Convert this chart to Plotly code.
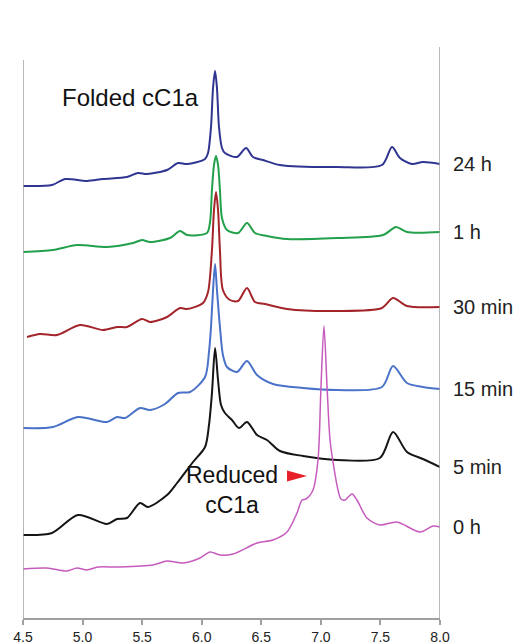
import plotly.graph_objects as go

# Retention time (min) and offset detector signal (a.u.) for each sample
labels = ["24 h", "1 h", "30 min", "15 min", "5 min", "0 h"]
colors = ["#2f3590", "#22a04b", "#a3242a", "#4a72c8", "#151515", "#c65bbd"]

t_24h = [4.50, 4.743, 4.853, 5.037, 5.171, 5.373, 5.465, 5.541, 5.709, 5.801, 5.877, 6.028, 6.053, 6.078,
         6.095, 6.112, 6.128, 6.145, 6.170, 6.195, 6.296, 6.372, 6.430, 6.514, 6.657, 7.136, 7.513, 7.597,
         7.664, 7.765, 7.857, 8.0]
s_24h = [432, 433, 439, 437, 439, 441, 445, 444, 448, 455, 454, 459, 465, 491,
         530, 547, 530, 491, 470, 465, 461, 470, 461, 458, 453, 451, 453, 471,
         460, 454, 456, 454]

t_1h = [4.50, 4.752, 4.953, 5.205, 5.423, 5.499, 5.566, 5.734, 5.818, 5.877, 6.044, 6.070, 6.086, 6.103,
        6.120, 6.137, 6.153, 6.170, 6.212, 6.305, 6.380, 6.447, 6.548, 6.716, 7.136, 7.522, 7.631, 7.723, 8.0]
s_1h = [366, 368, 373, 371, 375, 378, 376, 380, 387, 383, 385, 396, 428, 453,
        462, 453, 428, 400, 388, 385, 395, 385, 382, 379, 380, 383, 391, 386, 386]

t_30m = [4.534, 4.643, 4.785, 4.978, 5.171, 5.289, 5.373, 5.499, 5.566, 5.709, 5.818, 5.877, 6.011, 6.053,
         6.086, 6.103, 6.120, 6.137, 6.153, 6.178, 6.237, 6.305, 6.380, 6.447, 6.531, 6.716, 7.136, 7.513,
         7.606, 7.723, 8.0]
s_30m = [281, 284, 283, 293, 288, 291, 291, 299, 296, 301, 310, 309, 315, 326,
         368, 408, 426, 408, 368, 328, 318, 317, 330, 316, 314, 309, 307, 310,
         320, 312, 311]

t_15m = [4.475, 4.752, 4.962, 5.205, 5.289, 5.356, 5.482, 5.566, 5.692, 5.801, 5.902, 6.028, 6.061, 6.078,
         6.095, 6.112, 6.128, 6.153, 6.178, 6.212, 6.296, 6.380, 6.464, 6.598, 6.850, 7.136, 7.513, 7.606,
         7.723, 7.857, 8.0]
s_15m = [190, 191, 201, 196, 201, 200, 210, 208, 214, 225, 226, 241, 266, 291,
         328, 354, 328, 291, 263, 251, 246, 257, 243, 234, 230, 228, 231, 252,
         235, 231, 229]

t_5m = [4.50, 4.743, 4.962, 5.205, 5.289, 5.373, 5.482, 5.549, 5.709, 5.793, 5.927, 6.028, 6.061, 6.086,
        6.112, 6.137, 6.162, 6.195, 6.254, 6.313, 6.380, 6.464, 6.548, 6.657, 6.850, 7.136, 7.496, 7.606,
        7.723, 7.857, 8.0]
s_5m = [83, 85, 103, 94, 99, 100, 115, 111, 123, 135, 156, 171, 193, 225,
        270, 238, 213, 205, 198, 190, 196, 183, 178, 167, 162, 158, 160, 186,
        166, 159, 151]

t_0h = [4.50, 4.701, 4.869, 4.953, 5.037, 5.129, 5.314, 5.591, 5.709, 5.843, 5.986, 6.070, 6.153, 6.263,
        6.464, 6.598, 6.716, 6.800, 6.842, 6.875, 6.934, 6.976, 7.001, 7.026, 7.052, 7.077, 7.102, 7.144,
        7.169, 7.203, 7.261, 7.303, 7.387, 7.496, 7.639, 7.832, 7.941, 8.0]
s_0h = [49, 50, 47, 50, 48, 51, 51, 53, 57, 55, 60, 66, 63, 64,
        75, 78, 86, 105, 118, 119, 128, 158, 231, 292, 231, 178, 156, 128,
        119, 118, 124, 118, 100, 93, 96, 86, 92, 91]

times = [t_24h, t_1h, t_30m, t_15m, t_5m, t_0h]
signals = [s_24h, s_1h, s_30m, s_15m, s_5m, s_0h]

x_ticks = [4.5, 5.0, 5.5, 6.0, 6.5, 7.0, 7.5, 8.0]
x_tick_text = ["4.5", "5.0", "5.5", "6.0", "6.5", "7.0", "7.5", "8.0"]

X_MIN, X_MAX = 4.5, 8.0
Y_MAX = 578

sans = "Liberation Sans, Arial, Helvetica, sans-serif"

fig = go.Figure()
for lab, col, t, s in zip(labels, colors, times, signals):
    fig.add_trace(go.Scatter(
        x=t, y=s, mode="lines", name=lab,
        line=dict(color=col, width=1.5 if lab == "0 h" else 2, shape="spline", smoothing=0.8),
        hoverinfo="skip", showlegend=False))

annotations = []
for lab, s in zip(labels, signals):
    annotations.append(dict(x=X_MAX, y=s[-1], xref="x", yref="y", text=lab, showarrow=False,
                            xanchor="left", yanchor="middle", xshift=11, yshift=0,
                            font=dict(family=sans, size=20, color="#222222")))

annotations += [
    dict(x=5.406, y=521, xref="x", yref="y", text="Folded cC1a", showarrow=False,
         xanchor="center", yanchor="middle", font=dict(family=sans, size=24, color="#111111")),
    dict(x=6.25, y=128, xref="x", yref="y", text="Reduced<br>cC1a", showarrow=False,
         xanchor="center", yanchor="middle", align="center", borderpad=0,
         font=dict(family=sans, size=23, color="#111111")),
]

shapes = [
    dict(type="line", xref="x", yref="y", x0=X_MIN, x1=X_MIN, y0=0, y1=558,
         line=dict(color="#a0a0a0", width=1.5)),
    dict(type="line", xref="x", yref="y", x0=X_MAX, x1=X_MAX, y0=0, y1=571,
         line=dict(color="#a0a0a0", width=1.5)),
    dict(type="path", xref="x", yref="y", xsizemode="pixel", ysizemode="pixel",
         xanchor=6.80, yanchor=142, path="M -10 -5.5 L 10 0 L -10 5.5 Z",
         fillcolor="#e8202a", line=dict(width=0)),
]

fig.update_layout(
    width=520, height=660, autosize=False,
    margin=dict(l=23, r=80, t=40, b=42),
    paper_bgcolor="white", plot_bgcolor="white",
    xaxis=dict(range=[X_MIN, X_MAX], tickvals=x_ticks, ticktext=x_tick_text,
               showgrid=False, zeroline=False, showline=True, linecolor="#a0a0a0", linewidth=1.5,
               ticks="outside", ticklen=5, tickwidth=1.5, tickcolor="#a0a0a0",
               ticklabelstandoff=0,
               tickfont=dict(family=sans, size=14, color="#222222")),
    xaxis2=dict(range=[X_MIN, X_MAX], overlaying="x", side="bottom", anchor="y",
                tickvals=x_ticks, showticklabels=False, showgrid=False, zeroline=False,
                showline=False, ticks="inside", ticklen=3, tickwidth=1.5, tickcolor="#a0a0a0"),
    yaxis=dict(range=[0, Y_MAX], visible=False),
    annotations=annotations,
    shapes=shapes,
)

fig.write_html("out.html",
               config={"displayModeBar": False, "responsive": False},
               post_script="document.body.style.margin='0';document.body.style.overflow='hidden';")
